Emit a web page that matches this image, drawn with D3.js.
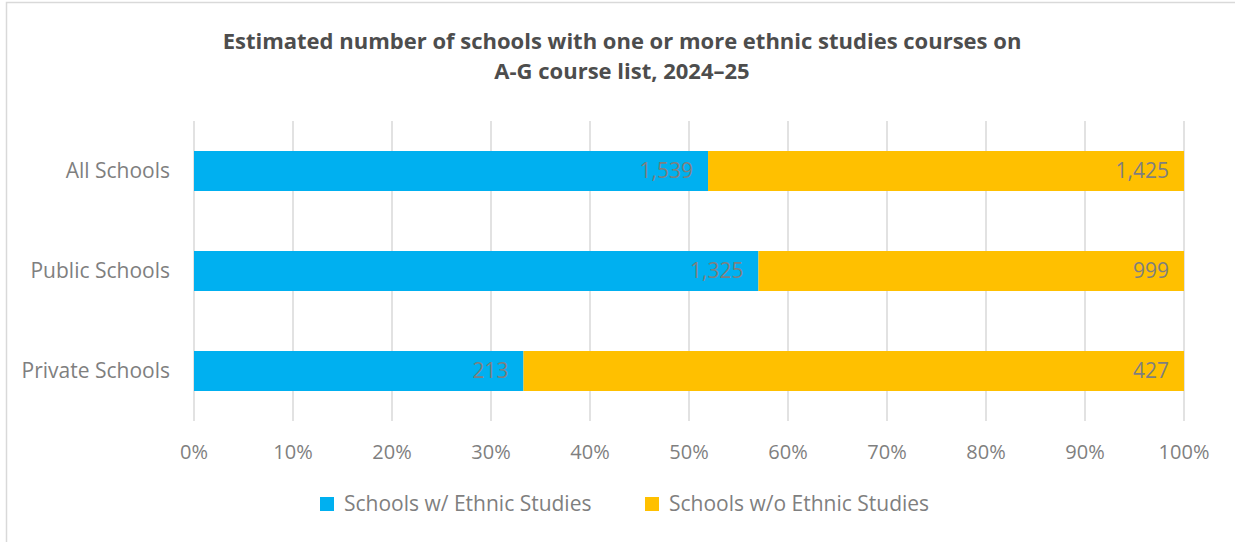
<!DOCTYPE html>
<html>
<head>
<meta charset="utf-8">
<script src="https://cdn.jsdelivr.net/npm/d3@7"></script>
<style>
  body { margin: 0; background: #fff; }
  text { font-family: "Open Sans", Lato, sans-serif; }
</style>
</head>
<body>
<div id="chart"></div>
<script>
// chart values
const categories = ["All Schools", "Public Schools", "Private Schools"];
const withEthnic = [1539, 1325, 213];
const withoutEthnic = [1425, 999, 427];
const seriesNames = ["Schools w/ Ethnic Studies", "Schools w/o Ethnic Studies"];
const tickValues = [0, 0.1, 0.2, 0.3, 0.4, 0.5, 0.6, 0.7, 0.8, 0.9, 1];
const titleLines = [
  "Estimated number of schools with one or more ethnic studies courses on",
  "A-G course list, 2024\u201325"
];

const width = 1235, height = 542;
const colors = ["#00B0F0", "#FFC000"];
const labelGray = "#7f7f7f";

const svg = d3.select("#chart").append("svg")
  .attr("width", width)
  .attr("height", height);

// chart frame
svg.append("path")
  .attr("d", "M6.5,542 V2.5 H1235")
  .attr("fill", "none")
  .attr("stroke", "#d9d9d9")
  .attr("stroke-width", 1.5);

// title
svg.append("g").selectAll("text")
  .data(titleLines)
  .enter()
  .append("text")
  .attr("x", 622)
  .attr("y", (d, i) => 49 + i * 30)
  .attr("text-anchor", "middle")
  .attr("font-size", 22)
  .attr("font-weight", "bold")
  .attr("fill", "#4d4d4d")
  .text(d => d);

const x = d3.scaleLinear().domain([0, 1]).range([194, 1184]);
const y = d3.scaleBand()
  .domain(categories)
  .range([121, 421])
  .paddingInner(0.6)
  .paddingOuter(0.3);

// gridlines
svg.append("g").selectAll("line")
  .data(tickValues)
  .enter()
  .append("line")
  .attr("x1", d => x(d))
  .attr("x2", d => x(d))
  .attr("y1", 121)
  .attr("y2", 421)
  .attr("stroke", "#d9d9d9")
  .attr("stroke-width", 1.5);

// stacked data as shares
const rows = categories.map((c, i) => {
  const total = withEthnic[i] + withoutEthnic[i];
  return { cat: c, vals: [withEthnic[i], withoutEthnic[i]], total: total };
});

const segs = [];
rows.forEach(r => {
  let start = 0;
  r.vals.forEach((v, j) => {
    const share = v / r.total;
    segs.push({ cat: r.cat, v: v, x0: start, x1: start + share, s: j });
    start += share;
  });
});

svg.append("g").selectAll("rect")
  .data(segs)
  .enter()
  .append("rect")
  .attr("x", d => x(d.x0))
  .attr("y", d => y(d.cat))
  .attr("width", d => x(d.x1) - x(d.x0))
  .attr("height", y.bandwidth())
  .attr("fill", d => colors[d.s]);

// value labels inside end
svg.append("g").selectAll("text")
  .data(segs)
  .enter()
  .append("text")
  .attr("x", d => x(d.x1) - 15)
  .attr("y", d => y(d.cat) + y.bandwidth() / 2 + 7)
  .attr("text-anchor", "end")
  .attr("font-size", 21)
  .attr("fill", labelGray)
  .text(d => d3.format(",")(d.v));

// category labels
svg.append("g").selectAll("text")
  .data(categories)
  .enter()
  .append("text")
  .attr("x", 170)
  .attr("y", d => y(d) + y.bandwidth() / 2 + 7)
  .attr("text-anchor", "end")
  .attr("font-size", 21)
  .attr("fill", labelGray)
  .text(d => d);

// x tick labels
svg.append("g").selectAll("text")
  .data(tickValues)
  .enter()
  .append("text")
  .attr("x", d => x(d))
  .attr("y", 459)
  .attr("text-anchor", "middle")
  .attr("font-size", 20)
  .attr("fill", labelGray)
  .text(d => d3.format(".0%")(d));

// legend
const legendX = [320, 645];
const lg = svg.append("g").selectAll("g")
  .data(seriesNames)
  .enter()
  .append("g")
  .attr("transform", (d, i) => `translate(${legendX[i]},504)`);
lg.append("rect")
  .attr("x", 0)
  .attr("y", -7)
  .attr("width", 14)
  .attr("height", 14)
  .attr("fill", (d, i) => colors[i]);
lg.append("text")
  .attr("x", 24)
  .attr("y", 7)
  .attr("font-size", 21)
  .attr("fill", labelGray)
  .text(d => d);
</script>
</body>
</html>
